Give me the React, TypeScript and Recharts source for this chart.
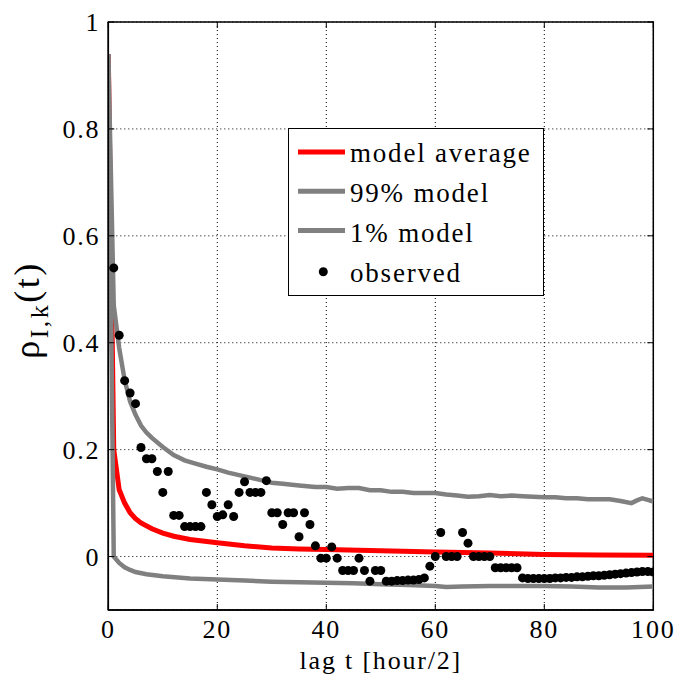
import React from 'react';
import { ComposedChart, Line, Scatter, XAxis, YAxis, CartesianGrid, ReferenceArea } from 'recharts';

const FONT = '"Liberation Serif", "Times New Roman", Times, serif';
const W = 681;
const H = 688;
const PLOT_L = 108.3;
const PLOT_R = 653.3;
const PLOT_T = 22;
const PLOT_B = 610;

const xTicks = [0, 20, 40, 60, 80, 100];
const yTicks = [0, 0.2, 0.4, 0.6, 0.8, 1];
const yTickLabels = ['0', '0.2', '0.4', '0.6', '0.8', '1'];

const legendLabels = ['model average', '99% model', '1% model', 'observed'];

// model average (red)
const avgLags = [0, 1, 2, 3, 4, 5, 6, 8, 10, 12, 15, 20, 25, 30, 35, 40, 50, 60, 70, 80, 90, 100];
const avgValues = [0.94, 0.2, 0.125, 0.1, 0.082, 0.071, 0.063, 0.052, 0.044, 0.038, 0.032, 0.026, 0.02, 0.016, 0.014, 0.013, 0.011, 0.0085, 0.0065, 0.004, 0.003, 0.0025];

// 99% model (upper grey)
const upLags = [0, 1, 2, 3, 4, 5, 6, 7, 8, 10, 12, 14, 16, 18, 20, 22, 25, 28, 30, 32, 35, 38, 40, 42, 44, 46, 48, 50, 52, 54, 56, 58, 60, 62, 64, 66, 68, 70, 72, 74, 76, 78, 80, 82, 84, 86, 88, 90, 92, 94, 96, 97, 98, 99, 100];
const upValues = [0.94, 0.47, 0.39, 0.33, 0.29, 0.265, 0.245, 0.232, 0.222, 0.205, 0.19, 0.18, 0.174, 0.168, 0.163, 0.157, 0.15, 0.143, 0.138, 0.136, 0.133, 0.13, 0.13, 0.127, 0.128, 0.128, 0.124, 0.124, 0.121, 0.121, 0.119, 0.119, 0.119, 0.116, 0.114, 0.112, 0.113, 0.115, 0.113, 0.114, 0.113, 0.112, 0.111, 0.111, 0.109, 0.109, 0.107, 0.107, 0.107, 0.104, 0.1, 0.105, 0.109, 0.106, 0.103];

// 1% model (lower grey)
const lowLags = [0, 1, 2, 3, 4, 5, 7, 10, 15, 20, 25, 30, 35, 40, 45, 50, 55, 60, 62, 65, 70, 75, 80, 85, 90, 95, 100];
const lowValues = [0.94, 0.0, -0.012, -0.02, -0.025, -0.029, -0.033, -0.037, -0.041, -0.043, -0.045, -0.047, -0.048, -0.049, -0.05, -0.052, -0.053, -0.055, -0.057, -0.056, -0.055, -0.055, -0.055, -0.056, -0.058, -0.058, -0.056];

// observed, lags 1..100
const obsLags = Array.from({ length: 100 }, (_, i) => i + 1);
const obsValues = [
  0.54, 0.414, 0.329, 0.306, 0.286, 0.204, 0.183, 0.183, 0.159, 0.12,
  0.159, 0.077, 0.077, 0.056, 0.056, 0.056, 0.056, 0.12, 0.097, 0.075,
  0.078, 0.097, 0.075, 0.12, 0.14, 0.12, 0.12, 0.12, 0.142, 0.082,
  0.082, 0.06, 0.082, 0.082, 0.037, 0.082, 0.06, 0.02, -0.003, -0.003,
  0.018, -0.003, -0.026, -0.026, -0.026, -0.003, -0.026, -0.046, -0.026, -0.026,
  -0.046, -0.046, -0.045, -0.045, -0.044, -0.044, -0.043, -0.04, -0.018, 0.0,
  0.045, 0.0, 0.0, 0.0, 0.045, 0.025, 0.0, 0.0, 0.0, 0.0,
  -0.021, -0.021, -0.021, -0.021, -0.021, -0.04, -0.041, -0.041, -0.041, -0.041,
  -0.041, -0.04, -0.04, -0.039, -0.039, -0.038, -0.038, -0.037, -0.036, -0.036,
  -0.035, -0.034, -0.033, -0.032, -0.031, -0.03, -0.029, -0.028, -0.028, -0.029,
];

const zip = (xs: number[], ys: number[]) => xs.map((t, i) => ({ t, v: ys[i] }));
const avgData = zip(avgLags, avgValues);
const upData = zip(upLags, upValues);
const lowData = zip(lowLags, lowValues);
const obsData = zip(obsLags, obsValues);

const FS = 27;
const LS = 1.8;
const AXFS = 26;

const YTick = (props: any) => {
  const { x, y, payload } = props;
  const idx = yTicks.indexOf(payload.value);
  const label = idx >= 0 ? yTickLabels[idx] : String(payload.value);
  return (
    <g>
      <text x={x} y={y} dy={9} textAnchor="end" fontFamily={FONT} fontSize={AXFS} letterSpacing={LS} fill="#000">
        {label}
      </text>
      <line x1={PLOT_L} x2={PLOT_L + 6} y1={y} y2={y} stroke="#000" strokeWidth={1} />
      <line x1={PLOT_R - 6} x2={PLOT_R} y1={y} y2={y} stroke="#000" strokeWidth={1} />
    </g>
  );
};

const XTick = (props: any) => {
  const { x, y, payload } = props;
  return (
    <g>
      <text x={x} y={y} dy={28} textAnchor="middle" fontFamily={FONT} fontSize={AXFS} letterSpacing={LS} fill="#000">
        {String(payload.value)}
      </text>
      <line x1={x} x2={x} y1={PLOT_B} y2={PLOT_B - 6} stroke="#000" strokeWidth={1} />
      <line x1={x} x2={x} y1={PLOT_T} y2={PLOT_T + 6} stroke="#000" strokeWidth={1} />
    </g>
  );
};

const XLabel = (props: any) => {
  const vb = props.viewBox || {};
  const cx = (vb.x || 0) + (vb.width || 0) / 2;
  return (
    <text x={cx} y={669} textAnchor="middle" fontFamily={FONT} fontSize={AXFS} letterSpacing={LS} fill="#000">
      lag t [hour/2]
    </text>
  );
};

const YLabel = (props: any) => {
  const vb = props.viewBox || {};
  const cy = (vb.y || 0) + (vb.height || 0) / 2 - 6;
  return (
    <text transform={`translate(39, ${cy}) rotate(-90)`} textAnchor="middle" fontFamily={FONT} fontSize={36} letterSpacing={2.5} fill="#000">
      ρ
      <tspan fontSize={26} dy={9}>I,k</tspan>
      <tspan dy={-9}>(t)</tspan>
    </text>
  );
};

const LegendBox = () => {
  const colors = ['#ff0000', '#808080', '#808080'];
  return (
    <svg width={257} height={170} style={{ display: 'block' }}>
      <rect x={0.5} y={0.5} width={255} height={167} fill="#fff" stroke="#000" strokeWidth={1} />
      {colors.map((c, i) => (
        <line key={i} x1={10} x2={57} y1={24 + i * 39.3} y2={24 + i * 39.3} stroke={c} strokeWidth={5} />
      ))}
      <circle cx={35.3} cy={143.7} r={4.5} fill="#000" />
      {legendLabels.map((l, i) => (
        <text key={l} x={62} y={33.7 + i * 40} fontFamily={FONT} fontSize={FS} letterSpacing={LS} fill="#000">
          {l}
        </text>
      ))}
    </svg>
  );
};

const Dot = (props: any) => {
  const { cx, cy } = props;
  if (cx == null || cy == null) return null;
  return <circle cx={cx} cy={cy} r={4.5} fill="#000" />;
};

export default function App() {
  return (
    <div style={{ position: 'absolute', left: 0, top: 0, width: W, height: H, background: '#fff' }}>
      <ComposedChart
        width={W}
        height={H}
        margin={{ top: PLOT_T, right: W - PLOT_R, bottom: 38, left: PLOT_L - 60 }}
      >
        <CartesianGrid stroke="#000" strokeDasharray="1 3" strokeWidth={1} />
        <XAxis
          dataKey="t"
          type="number"
          domain={[0, 100]}
          ticks={xTicks}
          allowDataOverflow
          height={40}
          tickSize={0}
          tickMargin={0}
          tick={<XTick />}
          axisLine={{ stroke: '#000', strokeWidth: 1.5 }}
          tickLine={false}
          label={<XLabel />}
        />
        <YAxis
          dataKey="v"
          type="number"
          domain={[-0.1, 1]}
          ticks={yTicks}
          allowDataOverflow
          width={60}
          tickSize={0}
          tickMargin={8}
          tick={<YTick />}
          axisLine={{ stroke: '#000', strokeWidth: 1.5 }}
          tickLine={false}
          label={<YLabel />}
        />
        <ReferenceArea x1={0} x2={100} y1={-0.1} y2={1} fill="none" stroke="#000" strokeWidth={1.5} ifOverflow="visible" />
        <Line data={avgData} dataKey="v" stroke="#ff0000" strokeWidth={5} dot={false} isAnimationActive={false} type="linear" legendType="none" />
        <Line data={upData} dataKey="v" stroke="#808080" strokeWidth={4.5} dot={false} isAnimationActive={false} type="linear" legendType="none" />
        <Line data={lowData} dataKey="v" stroke="#808080" strokeWidth={4.5} dot={false} isAnimationActive={false} type="linear" legendType="none" />
        <Scatter data={obsData} dataKey="v" fill="#000" shape={<Dot />} isAnimationActive={false} legendType="none" />
      </ComposedChart>
      <div style={{ position: 'absolute', left: 288, top: 128 }}>
        <LegendBox />
      </div>
    </div>
  );
}
